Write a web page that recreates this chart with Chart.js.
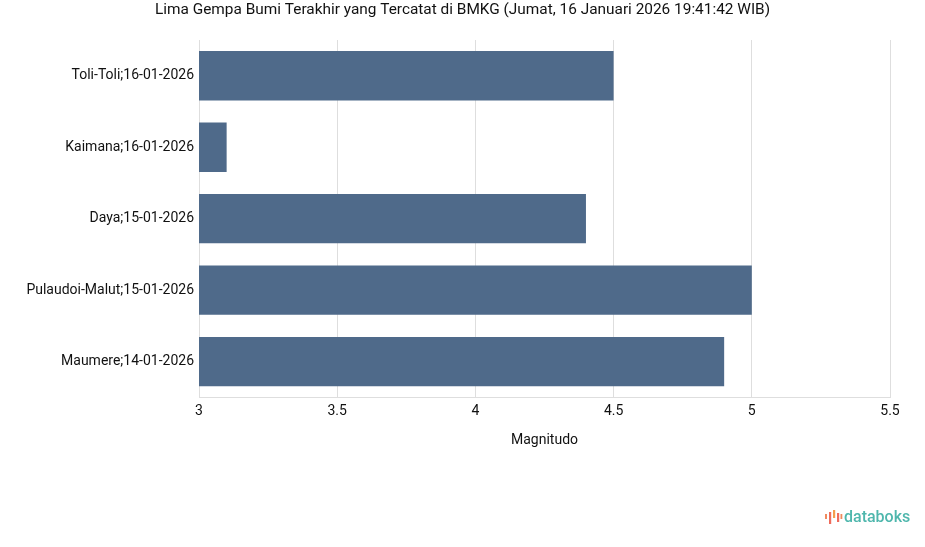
<!DOCTYPE html>
<html>
<head>
<meta charset="utf-8">
<script src="https://cdn.jsdelivr.net/npm/chart.js@4"></script>
<style>
  html, body { margin: 0; padding: 0; background: #fff; }
  #wrap { position: relative; width: 925px; height: 547px; }
  #logo { position: absolute; left: 824px; top: 507px; font-family: Roboto, "Open Sans", sans-serif; font-size: 16px; font-weight: 500; color: #4fb7ad; display: flex; align-items: center; gap: 1px; }
  #logo svg { display: block; }
</style>
</head>
<body>
<div id="wrap">
  <canvas id="c" width="925" height="547"></canvas>
  <div id="logo">
    <svg width="19" height="18" viewBox="0 0 19 18">
      <rect x="1" y="6" width="2" height="5" fill="#f08a5d"/>
      <rect x="5" y="4" width="2.2" height="12" fill="#ef6b5b"/>
      <rect x="9" y="2" width="2.2" height="8" fill="#f59e4c"/>
      <rect x="13" y="5" width="2.2" height="9" fill="#ef6b5b"/>
      <rect x="16.5" y="6" width="1.8" height="5" fill="#f08a5d"/>
    </svg>
    <span>databoks</span>
  </div>
</div>
<script>
const categories = ["Toli-Toli;16-01-2026", "Kaimana;16-01-2026", "Daya;15-01-2026", "Pulaudoi-Malut;15-01-2026", "Maumere;14-01-2026"];
const magnitudes = [4.5, 3.1, 4.4, 5.0, 4.9];
const xMin = 3;
const xMax = 5.5;
const xStep = 0.5;
const titleText = "Lima Gempa Bumi Terakhir yang Tercatat di BMKG (Jumat, 16 Januari 2026 19:41:42 WIB)";
const xAxisTitle = "Magnitudo";

const FONT = "Roboto, 'Liberation Sans', sans-serif";

const pageTitle = {
  id: "pageTitle",
  afterDraw(chart) {
    const ctx = chart.ctx;
    ctx.save();
    ctx.font = "15.4px " + FONT;
    ctx.fillStyle = "#111";
    ctx.textAlign = "center";
    ctx.textBaseline = "middle";
    ctx.fillText(titleText, chart.width / 2, 10);
    ctx.restore();
  }
};

new Chart(document.getElementById("c"), {
  type: "bar",
  data: {
    labels: categories,
    datasets: [{
      data: magnitudes,
      backgroundColor: "#4f6a8a",
      borderWidth: 0,
      categoryPercentage: 1.0,
      barPercentage: 0.69
    }]
  },
  plugins: [pageTitle],
  options: {
    indexAxis: "y",
    responsive: false,
    animation: false,
    layout: { padding: { left: 0, right: 35, top: 40, bottom: 98 } },
    plugins: {
      legend: { display: false },
      tooltip: { enabled: false },
      title: { display: false }
    },
    scales: {
      x: {
        min: xMin,
        max: xMax,
        ticks: {
          stepSize: xStep,
          color: "#111",
          font: { family: FONT, size: 14 },
          padding: 6,
          maxRotation: 0,
          callback: (v) => String(Number(v))
        },
        grid: { color: "#dedede", drawTicks: false },
        border: { color: "#dedede" },
        title: {
          display: true,
          text: xAxisTitle,
          color: "#111",
          font: { family: FONT, size: 14 },
          padding: { top: 6, bottom: 0 }
        }
      },
      y: {
        ticks: {
          color: "#111",
          font: { family: FONT, size: 14 },
          padding: 5
        },
        grid: { display: false, drawTicks: false },
        border: { color: "#dedede" },
        afterFit: (s) => { s.width = 199; }
      }
    }
  }
});
</script>
</body>
</html>
